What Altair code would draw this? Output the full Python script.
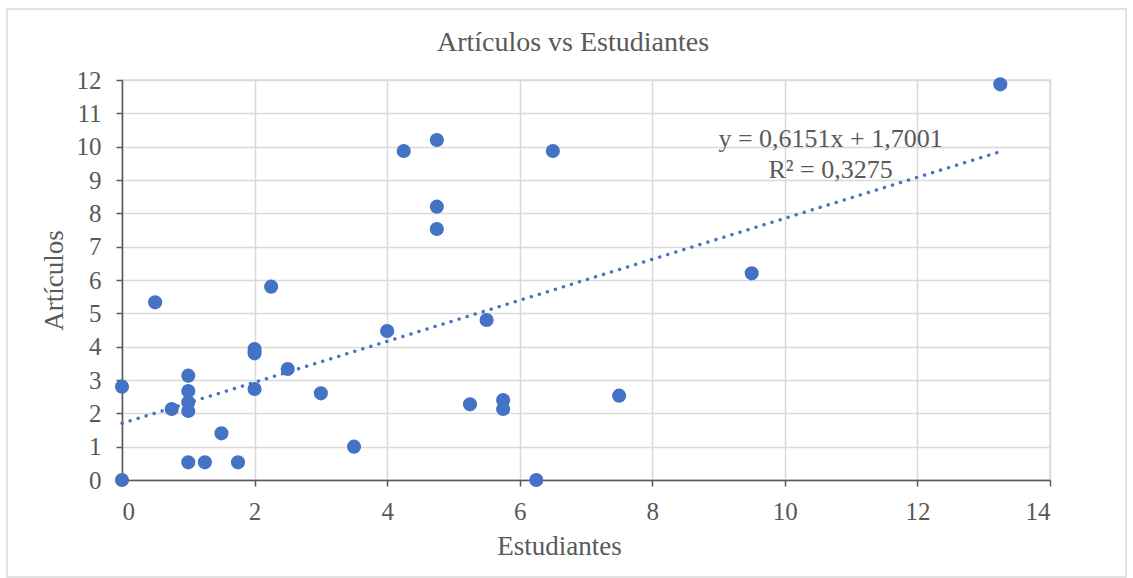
import altair as alt
import pandas as pd

# Data
estudiantes = [0, 0, 0.5, 0.75, 1, 1, 1, 1, 1, 1.25, 1.5, 1.75, 2, 2, 2, 2.25, 2.5, 3, 3.5,
               4, 4.25, 4.75, 4.75, 4.75, 5.25, 5.5, 5.75, 5.75, 6.25, 6.5, 7.5, 9.5, 13.25]
articulos = [0, 2.8, 5.33, 2.13, 3.13, 2.67, 2.33, 2.07, 0.53, 0.53, 1.4, 0.53, 3.93, 3.8, 2.73,
             5.8, 3.33, 2.6, 1.0, 4.47, 9.87, 10.2, 8.2, 7.53, 2.27, 4.8, 2.4, 2.13, 0, 9.87,
             2.53, 6.2, 11.87]

# Trendline reported in the chart: y = 0.6151x + 1.7001
slope = 0.6151
intercept = 1.7001
trend_x = [0, 13.25]
trend_y = [intercept + slope * v for v in trend_x]

eq_text = ["y = 0,6151x + 1,7001", "R\u00b2 = 0,3275"]
eq_x = [10.69, 10.69]
eq_y = [9.99, 9.06]

x_ticks = [0, 2, 4, 6, 8, 10, 12, 14]
y_ticks = list(range(13))

BLUE = "#4472C4"
GREY = "#595959"
SERIF = "Liberation Serif"

pts = pd.DataFrame({"Estudiantes": estudiantes, "Artículos": articulos})
trend = pd.DataFrame({"Estudiantes": trend_x, "Artículos": trend_y})
eq = pd.DataFrame({"Estudiantes": eq_x, "Artículos": eq_y, "t": eq_text})

xscale = alt.Scale(domain=[0, 14], nice=False, zero=False)
yscale = alt.Scale(domain=[0, 12], nice=False, zero=False)

common = dict(grid=True, tickSize=6, format="d",
              gridColor="#d9d9d9", gridWidth=1.5,
              domainColor=GREY, domainWidth=1.5,
              tickColor=GREY, tickWidth=1.5,
              labelFont=SERIF, labelFontSize=25, labelColor=GREY,
              titleFont=SERIF, titleFontSize=27, titleColor=GREY,
              titleFontWeight="normal")

xaxis = alt.Axis(values=x_ticks, title="Estudiantes",
                 labelPadding=33, labelBaseline="alphabetic",
                 titleX=437, titleY=74, titleBaseline="alphabetic",
                 titleAlign="center", **common)
yaxis = alt.Axis(values=y_ticks, title="Artículos",
                 labelPadding=15, titleAngle=-90, titleX=-60, titleY=200,
                 titleBaseline="alphabetic", titleAlign="center", **common)

X = alt.X("Estudiantes:Q", scale=xscale, axis=xaxis)
Y = alt.Y("Artículos:Q", scale=yscale, axis=yaxis)

points = alt.Chart(pts).mark_circle(size=200, color=BLUE, opacity=1).encode(x=X, y=Y)

line = alt.Chart(trend).mark_line(
    color=BLUE, strokeWidth=3.4, strokeDash=[0.1, 8.3], strokeCap="round"
).encode(x=X, y=Y)

label = alt.Chart(eq).mark_text(
    font=SERIF, fontSize=26, color=GREY, align="center", baseline="alphabetic"
).encode(x=X, y=Y, text="t:N")

border = alt.Chart(alt.Data(values=[{}])).mark_rect(
    filled=False, stroke="#d9d9d9", strokeWidth=1.5
).encode(
    x=alt.value(-115), x2=alt.value(1004), y=alt.value(-71), y2=alt.value(497)
)

chart = alt.layer(points, line, label, border).properties(
    width=928, height=400,
    background="white",
    autosize=alt.AutoSizeParams(type="none"),
    padding={"left": 122, "top": 80, "right": 83, "bottom": 98},
    title=alt.TitleParams("Artículos vs Estudiantes", font=SERIF, fontSize=28,
                          fontWeight="normal", color=GREY, anchor="middle",
                          frame="group", baseline="alphabetic", offset=28,
                          dx=-13, dy=99),
).configure_view(stroke="#d9d9d9", strokeWidth=1.5)

chart.save("out.html", embed_options={"renderer": "svg", "actions": False})
